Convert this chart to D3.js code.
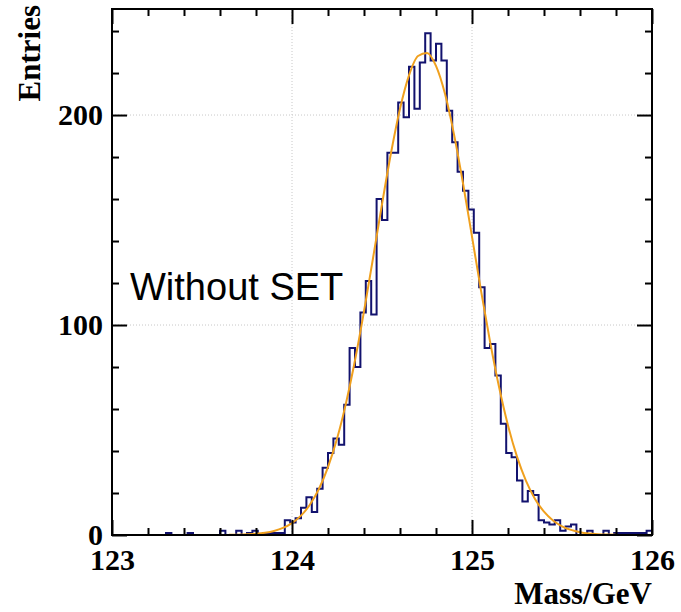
<!DOCTYPE html>
<html>
<head>
<meta charset="utf-8">
<script src="https://cdn.jsdelivr.net/npm/d3@7"></script>
<style>
  html, body { margin: 0; padding: 0; background: #fff; }
  svg { display: block; }
</style>
</head>
<body>
<svg id="chart" width="681" height="612"></svg>
<script>
// ---- data ----
const binLow = 123.0;
const binWidth = 0.03;
const counts = [
  0,0,0,0,0,0,0,0,0,0,
  1,0,0,0,1,0,0,0,0,0,
  2,0,0,2,0,1,2,0,1,1,
  1,1,7,6,8,13,18,11,22,32,
  39,46,43,62,89,80,106,121,105,160,
  150,182,182,206,199,223,203,225,239,226,
  234,226,202,187,173,164,155,144,118,89,
  91,76,53,39,37,26,16,21,19,7,
  6,5,7,2,4,5,0,0,2,0,
  0,2,0,1,1,1,1,1,1,2
];
const fitX = [123.65,123.70,123.75,123.80,123.85,123.90,123.95,124.00,124.05,124.10,
  124.15,124.20,124.25,124.30,124.35,124.40,124.45,124.50,124.55,124.60,
  124.65,124.70,124.75,124.80,124.85,124.90,124.95,125.00,125.05,125.10,
  125.15,125.20,125.25,125.30,125.35,125.40,125.45,125.50,125.55,125.60,
  125.65,125.70,125.75,125.80];
const fitY = [0.07,0.15,0.30,0.57,1.07,1.93,3.36,5.66,9.21,14.5,
  22.0,32.3,45.8,62.8,83.2,106.5,131.8,157.5,181.9,203.0,
  218.9,228.1,229.6,223.4,210.1,190.8,167.5,142.1,116.4,92.2,
  70.6,52.2,37.3,25.8,17.2,11.1,6.90,4.15,2.42,1.36,
  0.74,0.39,0.20,0.10];
const xMajorTicks = [123, 124, 125, 126];
const xMinorTicks = [123.2,123.4,123.6,123.8,124.2,124.4,124.6,124.8,125.2,125.4,125.6,125.8];
const yMajorTicks = [0, 100, 200];
const yMinorTicks = [20,40,60,80,120,140,160,180,220,240];
const xTitle = "Mass/GeV";
const yTitle = "Entries";
const annotation = "Without SET";

// ---- layout ----
const L = 112, R = 652, T = 9, B = 535;
const svg = d3.select("#chart");
const x = d3.scaleLinear().domain([123, 126]).range([L, R]);
const y = d3.scaleLinear().domain([0, 250.5]).range([B, T]);

svg.append("defs").append("clipPath").attr("id", "frame")
  .append("rect").attr("x", L).attr("y", T).attr("width", R - L).attr("height", B - T);

// grid
const grid = svg.append("g").attr("stroke", "#c8c8c8").attr("stroke-width", 1)
  .attr("stroke-dasharray", "1,2");
grid.selectAll("line.gx").data([124, 125]).join("line")
  .attr("x1", d => x(d)).attr("x2", d => x(d)).attr("y1", T).attr("y2", B);
grid.selectAll("line.gy").data([100, 200]).join("line")
  .attr("x1", L).attr("x2", R).attr("y1", d => y(d)).attr("y2", d => y(d));

// histogram
const pts = counts.map((c, i) => [binLow + i * binWidth, c]);
pts.push([binLow + counts.length * binWidth, counts[counts.length - 1]]);
const g = svg.append("g").attr("clip-path", "url(#frame)");
g.append("path")
  .attr("d", d3.line().x(d => x(d[0])).y(d => y(d[1])).curve(d3.curveStepAfter)(pts))
  .attr("fill", "none").attr("stroke", "#12126e").attr("stroke-width", 2);

// fit curve
g.append("path")
  .attr("d", d3.line().x((d, i) => x(fitX[i])).y(d => y(d)).curve(d3.curveMonotoneX)(fitY))
  .attr("fill", "none").attr("stroke", "#f0a01e").attr("stroke-width", 2);

// axes
function styleAxis(sel) {
  sel.select(".domain").remove();
  sel.selectAll(".tick line").attr("stroke", "#000").attr("stroke-width", 2);
}
const serif = "'Liberation Serif', 'Times New Roman', serif";

svg.append("g").attr("transform", `translate(0,${B})`)
  .call(d3.axisBottom(x).tickValues(xMinorTicks).tickSize(-7).tickFormat(""))
  .call(styleAxis);
const xb = svg.append("g").attr("transform", `translate(0,${B})`)
  .call(d3.axisBottom(x).tickValues(xMajorTicks).tickSize(-15).tickFormat(d3.format("d")))
  .call(styleAxis);
xb.selectAll("text").attr("dy", null).attr("y", 35)
  .attr("font-family", serif).attr("font-weight", "bold").attr("font-size", 30).attr("fill", "#000");

svg.append("g").attr("transform", `translate(0,${T})`)
  .call(d3.axisTop(x).tickValues(xMinorTicks).tickSize(-7).tickFormat("")).call(styleAxis);
svg.append("g").attr("transform", `translate(0,${T})`)
  .call(d3.axisTop(x).tickValues(xMajorTicks).tickSize(-15).tickFormat("")).call(styleAxis);

svg.append("g").attr("transform", `translate(${L},0)`)
  .call(d3.axisLeft(y).tickValues(yMinorTicks).tickSize(-7).tickFormat("")).call(styleAxis);
const yl = svg.append("g").attr("transform", `translate(${L},0)`)
  .call(d3.axisLeft(y).tickValues(yMajorTicks).tickSize(-15).tickPadding(9).tickFormat(d3.format("d")))
  .call(styleAxis);
yl.selectAll("text").attr("dy", "0.3em")
  .attr("font-family", serif).attr("font-weight", "bold").attr("font-size", 30).attr("fill", "#000");

svg.append("g").attr("transform", `translate(${R},0)`)
  .call(d3.axisRight(y).tickValues(yMinorTicks).tickSize(-7).tickFormat("")).call(styleAxis);
svg.append("g").attr("transform", `translate(${R},0)`)
  .call(d3.axisRight(y).tickValues(yMajorTicks).tickSize(-15).tickFormat("")).call(styleAxis);

// frame
svg.append("rect").attr("x", L).attr("y", T).attr("width", R - L).attr("height", B - T)
  .attr("fill", "none").attr("stroke", "#000").attr("stroke-width", 2);

// titles
svg.append("text").attr("x", R).attr("y", 604).attr("text-anchor", "end")
  .attr("font-family", serif).attr("font-weight", "bold").attr("font-size", 31)
  .text(xTitle);
svg.append("text").attr("transform", "translate(40,5) rotate(-90)").attr("text-anchor", "end")
  .attr("font-family", serif).attr("font-weight", "bold").attr("font-size", 31)
  .text(yTitle);

// annotation
svg.append("text").attr("x", 130).attr("y", 300)
  .attr("font-family", "'Liberation Sans', Arial, sans-serif").attr("font-size", 38)
  .attr("fill", "#000").text(annotation);
</script>
</body>
</html>
